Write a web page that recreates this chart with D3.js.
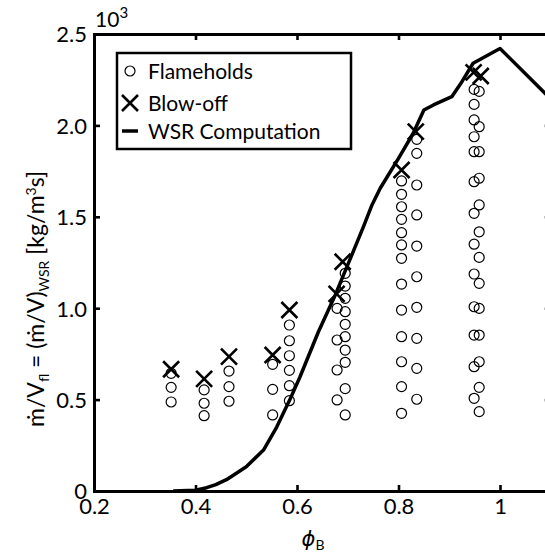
<!DOCTYPE html>
<html><head><meta charset="utf-8">
<script src="https://cdn.jsdelivr.net/npm/d3@7"></script>
<style>body{margin:0;background:#fff;}svg{display:block;}text{font-family:Lato,"Open Sans",sans-serif;fill:#000;}</style>
</head><body>
<script>
// Flamehold points [phi_B, m/V (x1e3 kg/m3s)]
const flameholdPhi = [0.352,0.352,0.352, 0.417,0.417,0.417, 0.466,0.466,0.466, 0.552,0.552,0.552,
  0.585,0.585,0.585,0.585,0.585,0.585,
  0.695,0.695,0.695,0.695,0.695,0.695,0.695,0.695,0.695,0.695, 0.679,0.679,0.679,0.679,
  0.806,0.806,0.806,0.806,0.806,0.806,0.806,0.806,0.806,0.806,0.806,0.806,0.806,
  0.836,0.836,0.836,0.836,0.836,0.836,0.836,0.836,0.836,0.836,
  0.949,0.949,0.949,0.949,0.949,0.949,0.949,0.949,0.949,0.949,0.949,0.949,0.949,
  0.959,0.959,0.959,0.959,0.959,0.959,0.959,0.959,0.959,0.959,0.959,0.959,0.959];
const flameholdVal = [0.644,0.567,0.487, 0.553,0.480,0.412, 0.656,0.571,0.491, 0.693,0.556,0.416,
  0.908,0.822,0.740,0.660,0.576,0.494,
  1.191,1.121,1.054,0.981,0.912,0.844,0.771,0.704,0.560,0.416, 0.999,0.826,0.662,0.498,
  1.696,1.623,1.555,1.486,1.413,1.346,1.273,1.132,0.990,0.844,0.707,0.571,0.425,
  1.924,1.847,1.674,1.510,1.340,1.172,1.005,0.835,0.671,0.502,
  2.197,2.115,2.030,1.938,1.856,1.692,1.519,1.350,1.187,1.008,0.853,0.680,0.507,
  2.186,1.993,1.856,1.711,1.565,1.418,1.278,1.136,0.999,0.853,0.707,0.567,0.434];
// Blow-off points
const blowoffPhi = [0.352,0.417,0.466,0.552,0.585,0.678,0.690,0.806,0.834,0.948,0.962];
const blowoffVal = [0.666,0.613,0.735,0.744,0.990,1.078,1.254,1.756,1.966,2.290,2.270];
// WSR computation curve
const wsrPhi = [0.356,0.40,0.422,0.44,0.461,0.50,0.534,0.560,0.586,0.606,0.642,0.675,0.704,0.731,0.747,0.764,0.80,0.829,0.850,0.869,0.905,0.925,0.947,1.0,1.1];
const wsrVal = [0,0.004,0.018,0.035,0.062,0.133,0.224,0.35,0.50,0.625,0.87,1.07,1.264,1.446,1.56,1.656,1.82,1.957,2.084,2.112,2.157,2.239,2.34,2.421,2.145];
const xTicks = [0.2,0.4,0.6,0.8,1.0];
const xTickLabels = ["0.2","0.4","0.6","0.8","1"];
const yTicks = [0,0.5,1.0,1.5,2.0,2.5];
const yTickLabels = ["0","0.5","1.0","1.5","2.0","2.5"];
const legendLabels = ["Flameholds","Blow-off","WSR Computation"];

const W=545,H=554;
const svg=d3.select("body").append("svg").attr("width",W).attr("height",H);
const x=d3.scaleLinear().domain([0.2,1.1]).range([94,550.75]);
const y=d3.scaleLinear().domain([0,2.5]).range([491,34]);
const [x0,x1]=x.range(), [y0,y1]=y.range();

svg.append("defs").append("clipPath").attr("id","clip").append("rect")
  .attr("x",x0).attr("y",y1).attr("width",x1-x0).attr("height",y0-y1);

const g=svg.append("g").attr("clip-path","url(#clip)");
// WSR line
g.append("path").datum(wsrPhi.map((p,i)=>[p,wsrVal[i]]))
  .attr("d",d3.line().x(d=>x(d[0])).y(d=>y(d[1])))
  .attr("fill","none").attr("stroke","#000").attr("stroke-width",3.5).attr("stroke-linejoin","round");
// circles
g.selectAll("circle.f").data(flameholdPhi.map((p,i)=>[p,flameholdVal[i]])).enter().append("circle")
  .attr("cx",d=>x(d[0])).attr("cy",d=>y(d[1])).attr("r",5)
  .attr("fill","none").attr("stroke","#000").attr("stroke-width",1.2);
// X markers
const xs=8;
const bo=g.selectAll("g.b").data(blowoffPhi.map((p,i)=>[p,blowoffVal[i]])).enter().append("g")
  .attr("transform",d=>`translate(${x(d[0])},${y(d[1])})`);
bo.append("path").attr("d",`M${-xs},${-xs}L${xs},${xs}M${-xs},${xs}L${xs},${-xs}`)
  .attr("stroke","#000").attr("stroke-width",2.6).attr("fill","none");

// axes
const tl=6;
const axB=svg.append("g").attr("transform",`translate(0,${y0})`)
  .call(d3.axisBottom(x).tickValues(xTicks).tickFormat((d,i)=>xTickLabels[i]).tickSizeInner(-tl).tickSizeOuter(0).tickPadding(8));
const axT=svg.append("g").attr("transform",`translate(0,${y1})`)
  .call(d3.axisTop(x).tickValues(xTicks).tickFormat("").tickSizeInner(-tl).tickSizeOuter(0));
const axL=svg.append("g").attr("transform",`translate(${x0},0)`)
  .call(d3.axisLeft(y).tickValues(yTicks).tickFormat((d,i)=>yTickLabels[i]).tickSizeInner(-tl).tickSizeOuter(0).tickPadding(7));
const axR=svg.append("g").attr("transform",`translate(${x1},0)`)
  .call(d3.axisRight(y).tickValues(yTicks).tickFormat("").tickSizeInner(-tl).tickSizeOuter(0));
[axB,axT,axL,axR].forEach(a=>{
  a.select(".domain").attr("stroke","#000").attr("stroke-width",3);
  a.selectAll(".tick line").attr("stroke","#000").attr("stroke-width",2.6);
  a.selectAll(".tick text").attr("font-family","Lato, sans-serif").attr("font-size",22).attr("fill","#000");
});
axB.selectAll(".tick text").attr("dy","0.7em");
axL.selectAll(".tick text").attr("dy","0.36em");
svg.selectAll(".domain").attr("stroke-linecap","square");

// 10^3
const ex=svg.append("text").attr("x",95).attr("y",27).attr("font-size",21);
ex.append("tspan").text("10");
ex.append("tspan").attr("dy",-9).attr("font-size",15).text("3");

// x label
const xl=svg.append("text").attr("x",313).attr("y",546).attr("text-anchor","middle").attr("font-size",21);
xl.append("tspan").attr("font-style","italic").attr("font-family","DejaVu Sans, sans-serif").text("ϕ");
xl.append("tspan").attr("font-size",14).attr("dy",4).text("B");

// y label
const yl=svg.append("text").attr("transform","translate(44,299) rotate(-90)").attr("text-anchor","middle").attr("font-size",23);
yl.append("tspan").text("ṁ/V");
yl.append("tspan").attr("font-size",14).attr("dy",5).text("fl");
yl.append("tspan").attr("dy",-5).text(" = (ṁ/V)");
yl.append("tspan").attr("font-size",14).attr("dy",5).text("WSR");
yl.append("tspan").attr("dy",-5).text(" [kg/m");
yl.append("tspan").attr("font-size",14).attr("dy",-8).text("3");
yl.append("tspan").attr("dy",8).text("s]");

// legend
const lg=svg.append("g");
lg.append("rect").attr("x",117).attr("y",53).attr("width",234).attr("height",96)
  .attr("fill","#fff").attr("stroke","#000").attr("stroke-width",2.5);
const rows=[71,103,131];
lg.append("circle").attr("cx",130).attr("cy",rows[0]).attr("r",5).attr("fill","none").attr("stroke","#000").attr("stroke-width",1.2);
lg.append("path").attr("d",`M${130-xs},${rows[1]-xs}L${130+xs},${rows[1]+xs}M${130-xs},${rows[1]+xs}L${130+xs},${rows[1]-xs}`)
  .attr("stroke","#000").attr("stroke-width",2.6);
lg.append("line").attr("x1",122).attr("x2",138).attr("y1",rows[2]).attr("y2",rows[2]).attr("stroke","#000").attr("stroke-width",3.5);
legendLabels.forEach((t,i)=>{
  lg.append("text").attr("x",148).attr("y",rows[i]).attr("dy","0.36em").attr("font-size",21).text(t);
});
</script>
</body></html>
